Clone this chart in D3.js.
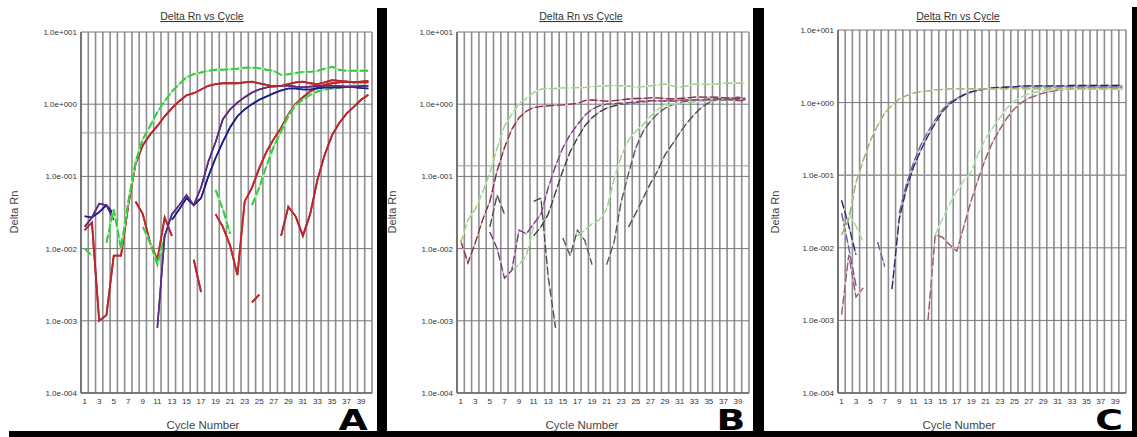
<!DOCTYPE html>
<html>
<head>
<meta charset="utf-8">
<script src="https://cdn.jsdelivr.net/npm/d3@7"></script>
<style>
  body { margin: 0; background: #fff; }
  svg { display: block; font-family: "Liberation Sans", Arial, sans-serif; }
</style>
</head>
<body>
<div id="chart"></div>
<script>
var width = 1137,
    height = 437;

var cycles = d3.range(1, 41);
var yTickValues = [10, 1, 0.1, 0.01, 0.001, 0.0001];
var yTickLabels = ["1.0e+001", "1.0e+000", "1.0e-001", "1.0e-002", "1.0e-003", "1.0e-004"];
var xTickLabels = d3.range(1, 40, 2);
var panelLetters = ["A", "B", "C"];
var thresholds = [0.4, 0.14, 0.1];

// panel A (values per cycle 1..40, null = not plotted)
var aGreen1 = [0.010, 0.008, null, 0.012, 0.035, 0.010, 0.045, 0.16, 0.33, 0.5, 0.78, 1.1, 1.5, 1.9, 2.35, 2.6, 2.75, 2.9, 3.0, 3.0,
               3.05, 3.1, 3.2, 3.2, 3.15, 3.0, 2.9, 2.55, 2.6, 2.7, 2.8, 2.8, 2.9, 3.1, 3.3, 3.0, 2.9, 2.9, 2.9, 2.9];
var aGreen2 = [null, null, null, null, null, null, null, null, 0.02, 0.012, 0.006, 0.015, null, null, null, null, null, null, 0.065, 0.035,
               0.016, null, null, 0.04, 0.07, 0.14, 0.26, 0.42, 0.68, 0.97, 1.15, 1.35, 1.5, 1.6, 1.65, 1.7, 1.75, 1.8, 1.8, 1.8];
var aRed1 = [0.018, 0.023, 0.001, 0.0012, 0.008, 0.008, 0.04, 0.15, 0.27, 0.38, 0.5, 0.68, 0.88, 1.1, 1.33, 1.42, 1.6, 1.8, 1.9, 1.95,
             1.95, 1.95, 2.0, 2.05, 1.95, 1.85, 1.75, 1.8, 1.9, 2.0, 2.05, 1.95, 1.9, 2.0, 2.15, 2.1, 2.05, 2.0, 2.05, 2.1];
var aRed2 = [null, null, null, null, null, null, null, 0.045, 0.03, 0.012, 0.007, 0.027, 0.015, null, null, null, null, null, 0.03, 0.02,
             0.011, 0.0043, 0.045, 0.07, 0.13, 0.22, 0.33, 0.47, 0.72, 1.0, 1.25, 1.5, 1.7, 1.85, 1.95, 2.0, 2.05, 2.0, 2.0, 2.0];
var aRed3 = [null, null, null, null, null, null, null, null, null, null, null, null, null, null, null, 0.007, 0.0025, null, null, null,
             null, null, null, 0.0018, 0.0023, null, null, 0.015, 0.038, 0.028, 0.015, 0.03, 0.09, 0.2, 0.37, 0.55, 0.74, 0.92, 1.15, 1.35];
var aPurple = [0.02, 0.027, 0.042, 0.04, 0.025, null, null, null, null, null, 0.0008, 0.015, 0.03, 0.04, 0.055, 0.04, 0.07, 0.16, 0.3, 0.62,
               0.85, 1.05, 1.25, 1.45, 1.6, 1.7, 1.78, 1.8, 1.8, 1.75, 1.72, 1.75, 1.78, 1.8, 1.8, 1.78, 1.75, 1.75, 1.78, 1.8];
var aBlue = [0.028, 0.027, 0.032, 0.04, 0.03, null, null, null, null, null, null, null, 0.025, 0.035, 0.05, 0.04, 0.05, 0.1, 0.18, 0.3,
             0.48, 0.68, 0.85, 1.0, 1.15, 1.28, 1.42, 1.55, 1.65, 1.65, 1.6, 1.6, 1.65, 1.7, 1.7, 1.7, 1.72, 1.72, 1.68, 1.65];

// panel B
var bGreen1 = [0.012, 0.025, 0.035, 0.06, 0.11, 0.25, 0.5, 0.72, 1.02, 1.2, 1.45, 1.62, 1.65, 1.65, 1.68, 1.68, 1.7, 1.7, 1.75, 1.78,
               1.8, 1.82, 1.8, 1.78, 1.72, 1.75, 1.8, 1.85, 1.9, 1.8, 1.72, 1.8, 1.9, 1.9, 1.88, 1.9, 1.95, 1.95, 1.95, 1.95];
var bDark1 = [0.013, 0.0063, 0.012, 0.025, 0.045, 0.12, 0.25, 0.45, 0.65, 0.8, 0.9, 0.93, 0.95, 0.97, 0.98, 1.0, 1.02, 1.12, 1.15, 1.12,
              1.1, 1.12, 1.15, 1.18, 1.2, 1.2, 1.22, 1.22, 1.2, 1.18, 1.2, 1.22, 1.25, 1.25, 1.25, 1.25, 1.22, 1.22, 1.2, 1.2];
var bDark2 = [null, null, null, null, 0.017, 0.01, 0.0039, 0.005, 0.018, 0.016, 0.022, 0.03, 0.07, 0.14, 0.25, 0.38, 0.52, 0.7, 0.85, 0.95,
              1.0, 1.02, 1.03, 1.05, 1.08, 1.1, 1.12, 1.12, 1.1, 1.1, 1.12, 1.15, 1.15, 1.15, 1.15, 1.18, 1.18, 1.15, 1.12, 1.12];
var bDark3 = [null, null, null, null, null, null, null, null, null, null, 0.015, 0.02, 0.03, 0.06, 0.12, 0.22, 0.34, 0.5, 0.65, 0.78,
              0.88, 0.95, 1.0, 1.02, 1.05, 1.08, 1.1, 1.12, 1.12, 1.12, 1.13, 1.14, 1.15, 1.15, 1.15, 1.15, 1.15, 1.15, 1.15, 1.15];
var bGreen2 = [null, null, null, null, null, null, null, 0.005, 0.006, 0.008, 0.02, null, null, null, null, null, 0.015, 0.018, 0.022, 0.025,
               0.035, 0.09, 0.19, 0.32, 0.42, 0.52, 0.68, 0.85, 0.97, 1.0, 1.02, 1.05, 1.08, 1.1, 1.12, 1.12, 1.15, 1.15, 1.15, 1.15];
var bDark4 = [null, null, null, null, null, null, null, null, null, null, null, null, null, null, 0.014, 0.008, 0.018, 0.013, 0.006, null,
              0.006, 0.012, 0.045, 0.11, 0.25, 0.42, 0.58, 0.74, 0.88, 0.98, 1.05, 1.1, 1.12, 1.15, 1.18, 1.2, 1.2, 1.22, 1.25, 1.2];
var bDark5 = [null, null, null, null, 0.02, 0.055, 0.03, null, null, null, 0.045, 0.05, 0.004, 0.0008, null, null, null, null, null, null,
              null, null, null, 0.02, 0.031, 0.05, 0.08, 0.12, 0.2, 0.28, 0.4, 0.55, 0.72, 0.9, 1.05, 1.15, 1.2, 1.22, 1.2, 1.2];

// panel C
var cOlive = [0.015, 0.025, 0.08, 0.16, 0.3, 0.48, 0.72, 0.92, 1.12, 1.25, 1.35, 1.42, 1.45, 1.5, 1.52, 1.55, 1.55, 1.55, 1.55, 1.55,
              1.55, 1.55, 1.55, 1.55, 1.55, 1.55, 1.55, 1.55, 1.55, 1.55, 1.55, 1.55, 1.55, 1.55, 1.55, 1.55, 1.55, 1.55, 1.55, 1.55];
var cNavy = [0.045, 0.02, 0.008, null, null, null, null, 0.0027, 0.025, 0.065, 0.13, 0.22, 0.35, 0.52, 0.75, 0.95, 1.12, 1.28, 1.4, 1.48,
             1.55, 1.6, 1.62, 1.64, 1.65, 1.7, 1.7, 1.7, 1.7, 1.7, 1.7, 1.7, 1.72, 1.72, 1.72, 1.72, 1.72, 1.72, 1.72, 1.72];
var cPurple = [0.03, 0.01, 0.003, null, null, 0.012, 0.0055, null, 0.03, 0.075, 0.15, 0.26, 0.4, 0.58, 0.8, 1.0, 1.15, 1.3, 1.4, 1.48,
               1.55, 1.58, 1.6, 1.62, 1.65, 1.65, 1.65, 1.65, 1.65, 1.65, 1.65, 1.65, 1.65, 1.65, 1.65, 1.65, 1.65, 1.65, 1.65, 1.65];
var cLightGreen = [null, 0.03, 0.02, 0.012, null, null, null, null, null, null, null, null, null, 0.015, 0.025, 0.04, 0.06, 0.085, 0.11, 0.2,
                   0.32, 0.45, 0.62, 0.85, 1.05, 1.2, 1.32, 1.4, 1.45, 1.5, 1.52, 1.52, 1.52, 1.52, 1.52, 1.52, 1.52, 1.52, 1.52, 1.52];
var cBrown = [0.0012, 0.008, 0.0021, 0.0028, null, null, null, null, null, null, null, null, 0.001, 0.015, 0.014, 0.011, 0.009, 0.02, 0.045, 0.09,
              0.17, 0.29, 0.43, 0.62, 0.82, 1.0, 1.15, 1.25, 1.35, 1.42, 1.48, 1.52, 1.55, 1.57, 1.58, 1.58, 1.6, 1.6, 1.6, 1.6];

var panels = [
  { left: 81, right: 372, top: 32, bottom: 393, titleX: 202, ylabX: 14, letterX: 353,
    series: [
      { values: aRed3, color: "#b8262e", tint: "#b8262e", w: 1.8 },
      { values: aRed2, color: "#c0282c", tint: "#c0282c", w: 1.8 },
      { values: aGreen2, color: "#2fcf3a", tint: "#a6eaa6", w: 1.9 },
      { values: aBlue, color: "#1c1c8c", tint: "#1c1c8c", w: 1.6 },
      { values: aPurple, color: "#5a2a84", tint: "#5a2a84", w: 1.6 },
      { values: aRed1, color: "#b8262e", tint: "#b8262e", w: 1.8 },
      { values: aGreen1, color: "#2fcf3a", tint: "#a6eaa6", w: 1.9 }
    ] },
  { left: 457, right: 749, top: 32, bottom: 393, titleX: 581, ylabX: 392, letterX: 731,
    series: [
      { values: bDark5, color: "#4a4a4a", tint: "#c8c8c8", w: 1.3 },
      { values: bDark4, color: "#555555", tint: "#cfcfcf", w: 1.3 },
      { values: bGreen2, color: "#9ccf8a", tint: "#e2f2da", w: 1.3 },
      { values: bDark3, color: "#3a3a3a", tint: "#c0c0c0", w: 1.3 },
      { values: bDark2, color: "#7a3a7e", tint: "#c9b0cb", w: 1.3 },
      { values: bDark1, color: "#8a2a3a", tint: "#d0a8ae", w: 1.3 },
      { values: bGreen1, color: "#96d080", tint: "#dcefd2", w: 1.3 }
    ] },
  { left: 838, right: 1126, top: 30, bottom: 393, titleX: 958, ylabX: 775, letterX: 1109,
    series: [
      { values: cBrown, color: "#9a5868", tint: "#ddbfc6", w: 1.3 },
      { values: cLightGreen, color: "#9fd89f", tint: "#e0f3e0", w: 1.3 },
      { values: cPurple, color: "#6a5a9c", tint: "#c8c0dc", w: 1.3 },
      { values: cNavy, color: "#26265e", tint: "#a8a8c8", w: 1.3 },
      { values: cOlive, color: "#98ac66", tint: "#dde6c8", w: 1.3 }
    ] }
];

var svg = d3.select("#chart").append("svg")
    .attr("width", width)
    .attr("height", height);

svg.append("rect")
    .attr("width", width)
    .attr("height", height)
    .attr("fill", "#fff");

panels.forEach(function(p, k) { drawPanel(p, k); });

// black frame pieces between and under the panels
svg.append("rect").attr("x", 377).attr("y", 8).attr("width", 10).attr("height", 429).attr("fill", "#000");
svg.append("rect").attr("x", 753).attr("y", 8).attr("width", 11).attr("height", 429).attr("fill", "#000");
svg.append("rect").attr("x", 1132).attr("y", 7).attr("width", 5).attr("height", 430).attr("fill", "#000");
svg.append("rect").attr("x", 9).attr("y", 431).attr("width", 1128).attr("height", 6).attr("fill", "#000");

function drawPanel(p, k) {

  var x = d3.scaleLinear()
      .domain([0.5, 40.5])
      .range([p.left, p.right]);

  var y = d3.scaleLog()
      .domain([0.0001, 10])
      .range([p.bottom, p.top]);

  var g = svg.append("g");

  // vertical grid, one line per cycle boundary
  g.selectAll("line.vgrid")
      .data(d3.range(0.5, 41, 1))
    .enter().append("line")
      .attr("class", "vgrid")
      .attr("x1", function(d) { return x(d); })
      .attr("x2", function(d) { return x(d); })
      .attr("y1", p.top)
      .attr("y2", p.bottom)
      .attr("stroke", "#8e8e8e")
      .attr("stroke-width", 1.6);

  // decade lines
  g.selectAll("line.hgrid")
      .data(yTickValues)
    .enter().append("line")
      .attr("class", "hgrid")
      .attr("x1", p.left)
      .attr("x2", p.right)
      .attr("y1", function(d) { return y(d); })
      .attr("y2", function(d) { return y(d); })
      .attr("stroke", "#777")
      .attr("stroke-width", 1);

  // threshold line
  g.append("line")
      .attr("x1", p.left)
      .attr("x2", p.right)
      .attr("y1", y(thresholds[k]))
      .attr("y2", y(thresholds[k]))
      .attr("stroke", "#9a9a9a")
      .attr("stroke-width", 1);

  g.append("line")
      .attr("x1", p.left).attr("x2", p.left)
      .attr("y1", p.top).attr("y2", p.bottom)
      .attr("stroke", "#666").attr("stroke-width", 1.5);

  g.append("line")
      .attr("x1", p.left).attr("x2", p.right)
      .attr("y1", p.bottom).attr("y2", p.bottom)
      .attr("stroke", "#666").attr("stroke-width", 1.5);

  // tick labels
  g.selectAll("text.ytick")
      .data(yTickValues)
    .enter().append("text")
      .attr("class", "ytick")
      .attr("x", p.left - 4)
      .attr("y", function(d) { return y(d) + 3; })
      .attr("text-anchor", "end")
      .attr("font-size", 8)
      .attr("fill", "#333")
      .text(function(d, i) { return yTickLabels[i]; });

  g.selectAll("text.xtick")
      .data(xTickLabels)
    .enter().append("text")
      .attr("class", "xtick")
      .attr("x", function(d) { return x(d); })
      .attr("y", p.bottom + 11)
      .attr("text-anchor", "middle")
      .attr("font-size", 8)
      .attr("fill", "#333")
      .text(function(d) { return d; });

  g.append("text")
      .attr("x", p.titleX)
      .attr("y", 20)
      .attr("text-anchor", "middle")
      .attr("font-size", 10.5)
      .attr("fill", "#333")
      .attr("text-decoration", "underline")
      .text("Delta Rn vs Cycle");

  g.append("text")
      .attr("transform", "translate(" + (p.ylabX + 4) + ",212)rotate(-90)")
      .attr("text-anchor", "middle")
      .attr("font-size", 11)
      .attr("fill", "#444")
      .text("Delta Rn");

  g.append("text")
      .attr("x", p.titleX + 1)
      .attr("y", 429)
      .attr("text-anchor", "middle")
      .attr("font-size", 11.5)
      .attr("fill", "#444")
      .text("Cycle Number");

  g.append("text")
      .attr("transform", "translate(" + p.letterX + ",430)scale(1.35,1)")
      .attr("text-anchor", "middle")
      .attr("font-family", "'DejaVu Sans', sans-serif")
      .attr("font-weight", "bold")
      .attr("font-size", 28)
      .attr("fill", "#000")
      .text(panelLetters[k]);

  // amplification curves
  var clipId = "clip" + k;
  svg.append("clipPath").attr("id", clipId)
    .append("rect")
      .attr("x", p.left)
      .attr("y", p.top)
      .attr("width", p.right - p.left)
      .attr("height", p.bottom - p.top);

  var line = d3.line()
      .defined(function(d) { return d.v != null; })
      .x(function(d) { return x(d.c); })
      .y(function(d) { return y(d.v); });

  var curves = g.append("g").attr("clip-path", "url(#" + clipId + ")");

  p.series.forEach(function(s) {
    var pts = cycles.map(function(c, i) { return { c: c, v: s.values[i] }; });
    curves.append("path")
        .attr("d", line(pts))
        .attr("fill", "none")
        .attr("stroke", s.tint)
        .attr("stroke-width", s.w);
    curves.append("path")
        .attr("d", line(pts))
        .attr("fill", "none")
        .attr("stroke", s.color)
        .attr("stroke-width", s.w)
        .attr("stroke-dasharray", s.tint == s.color ? null : "8,3");
  });
}
</script>
</body>
</html>
